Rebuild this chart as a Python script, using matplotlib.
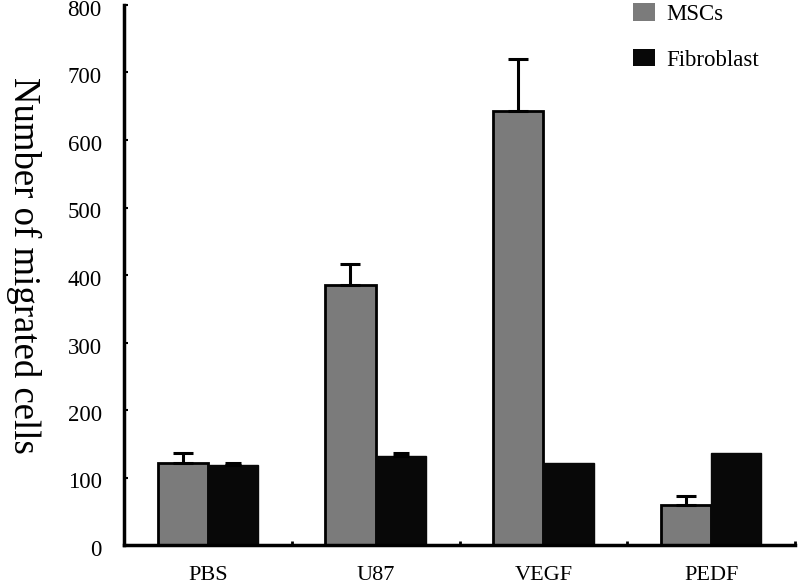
import matplotlib
matplotlib.use("Agg")
import matplotlib.pyplot as plt
import matplotlib.transforms as mtransforms
import numpy as np
from matplotlib.patches import Patch

categories = ["PBS", "U87", "VEGF", "PEDF"]
msc_values = [121, 385, 643, 59]
msc_err = [15, 31, 77, 13]
fib_values = [118, 132, 122, 137]
fib_err = [4, 4, 0, 0]
y_ticks = [0, 100, 200, 300, 400, 500, 600, 700, 800]

plt.rcParams['font.family'] = ['Liberation Serif', 'DejaVu Serif']

fig = plt.figure(figsize=(7.98, 5.88), dpi=100)
ax = fig.add_axes([124/798, 1-545/588, (795-124)/798, (545-5)/588])

x = np.arange(len(categories))
w = 0.3
ax.bar(x - w/2, msc_values, width=w, color='#7b7b7b', edgecolor='black', linewidth=2.0, zorder=2)
ax.bar(x + w/2, fib_values, width=w, color='#080808', edgecolor='#080808', linewidth=1.0, zorder=2)

ax.errorbar(x - w/2, msc_values, yerr=[np.zeros(len(x)), msc_err], fmt='none',
            ecolor='black', elinewidth=2.2, capsize=7, capthick=2.2, zorder=3)
fe = np.array(fib_err)
mask = fe > 0
ax.errorbar((x + w/2)[mask], np.array(fib_values)[mask], yerr=[np.zeros(mask.sum()), fe[mask]], fmt='none',
            ecolor='black', elinewidth=2.2, capsize=6, capthick=2.2, zorder=3)

ax.set_xlim(-0.5, 3.5)
ax.set_ylim(0, 800)
ax.set_yticks(y_ticks)
ax.set_yticklabels([str(t) for t in y_ticks], fontsize=16.5)
ax.set_xticks(x)
ax.set_xticklabels(categories, fontsize=16)
ax.set_xticks([0.5, 1.5, 2.5, 3.5], minor=True)
ax.tick_params(axis='x', which='major', length=0, pad=15)
ax.tick_params(axis='x', which='minor', length=3, width=2, direction='in')
ax.tick_params(axis='y', which='major', length=3, width=1.5, direction='in', pad=16)

off = mtransforms.ScaledTranslation(0, -3/100, fig.dpi_scale_trans)
for lbl in ax.get_yticklabels():
    lbl.set_transform(lbl.get_transform() + off)

for s in ['top', 'right']:
    ax.spines[s].set_visible(False)
for s in ['left', 'bottom']:
    ax.spines[s].set_linewidth(2.5)

fig.text(24/798, 1-265/588, "Number of migrated cells", rotation=-90, fontsize=26.5,
         ha='center', va='center')

handles = [Patch(facecolor='#7b7b7b', edgecolor='none', label='MSCs'),
           Patch(facecolor='#080808', edgecolor='none', label='Fibroblast')]
fig.legend(handles=handles, loc='upper left', bbox_to_anchor=(633/798, 1-3/588),
           frameon=False, fontsize=16.5, handlelength=0.95, handleheight=0.8,
           handletextpad=0.5, labelspacing=1.05, borderpad=0, borderaxespad=0)

fig.savefig("out.png", dpi=100)
